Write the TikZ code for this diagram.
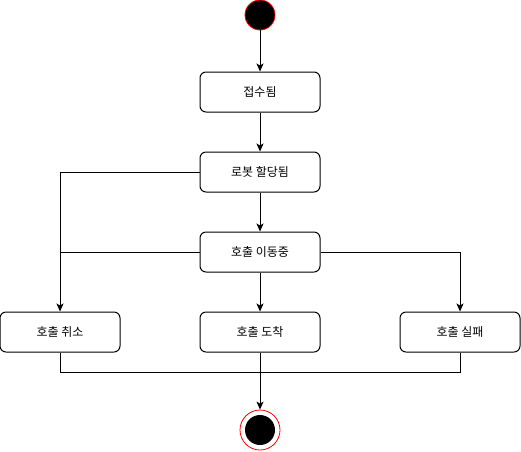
\documentclass[tikz,border=0pt]{standalone}
\usepackage{fontspec}
\newfontfamily\kr{Noto Sans CJK KR}
\usetikzlibrary{arrows.meta,positioning,calc}

\begin{document}
\begin{tikzpicture}[x=1pt, y=-1pt, line width=1pt, >={Stealth[length=8pt, width=7pt, inset=2pt]},
  state/.style={draw, rectangle, rounded corners=6pt, minimum width=120pt, minimum height=40pt, inner sep=0pt, font=\kr\fontsize{12}{14}\selectfont},
  startdot/.style={draw=red, fill=black, circle, minimum size=30pt, inner sep=0pt, line width=0.8pt}]
\useasboundingbox (0,0) rectangle (521,451);

% 시작
\node[startdot] (start) at (260,15) {};

% 상태
\node[state] (recv) at (260,92) {접수됨};
\node[state] (assign) at (260,172) {로봇 할당됨};
\node[state] (moving) at (260,252) {호출 이동중};
\node[state] (cancel) at (60,332) {호출 취소};
\node[state] (arrive) at (260,332) {호출 도착};
\node[state] (fail) at (460,332) {호출 실패};

% 종료
\node[draw=red, circle, minimum size=40pt, inner sep=0pt, line width=0.8pt] (end) at (260,430) {};
\node[fill=black, circle, minimum size=30pt, inner sep=0pt] (enddot) at (end) {};

% 전이
\draw[->] (start) -- (recv);
\draw[->] (recv) -- (assign);
\draw[->] (assign) -- (moving);
\draw[->] (assign.west) -| (cancel.north);
\draw (moving.west) -- (cancel.north |- moving.west);
\draw[->] (moving) -- (arrive);
\draw[->] (moving.east) -| (fail.north);
\coordinate (join) at (260,372);
\draw (cancel.south) |- (join);
\draw (fail.south) |- (join);
\draw[->] (arrive) -- (end);
\end{tikzpicture}
\end{document}
